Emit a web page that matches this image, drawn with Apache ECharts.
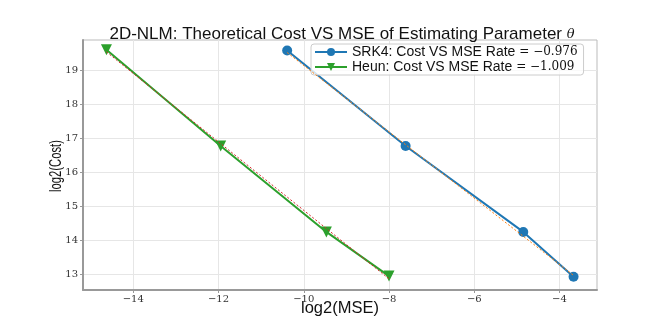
<!DOCTYPE html>
<html>
<head>
<meta charset="utf-8">
<script src="https://cdn.jsdelivr.net/npm/echarts@6/dist/echarts.min.js"></script>
<style>
html, body { margin: 0; padding: 0; background: #fff; }
#main { width: 664px; height: 327px; }
</style>
</head>
<body>
<div id="main"></div>
<script>
var myChart = echarts.init(document.getElementById('main'));

// log2(MSE) / log2(Cost)
var srk4X = [-10.39, -7.61, -4.85, -3.67];
var srk4Y = [19.59, 16.78, 14.25, 12.93];
var heunX = [-14.63, -11.95, -9.47, -8.0];
var heunY = [19.61, 16.78, 14.25, 12.95];
// fitted lines (end points)
var srk4FitX = [-10.39, -3.67];
var srk4FitY = [19.53, 12.97];
var heunFitX = [-14.63, -8.0];
var heunFitY = [19.55, 12.87];
var srk4Rate = '\u22120.976';
var heunRate = '\u22121.009';
var xTicks = [-14, -12, -10, -8, -6, -4];
var yTicks = [13, 14, 15, 16, 17, 18, 19];

function pairs(xs, ys) {
    var out = [];
    for (var i = 0; i < xs.length; i++) {
        out.push([xs[i], ys[i]]);
    }
    return out;
}
function minusFmt(v) {
    return v < 0 ? '\u2212' + Math.abs(v) : String(v);
}

var srk4Name = 'SRK4: Cost VS MSE Rate';
var heunName = 'Heun: Cost VS MSE Rate';

option = {
    backgroundColor: '#fff',
    animation: false,
    title: {
        text: '2D-NLM: Theoretical Cost VS MSE of Estimating Parameter {t|θ}',
        left: 337,
        textAlign: 'center',
        top: 21,
        textStyle: {
            fontFamily: 'Liberation Sans',
            fontSize: 17,
            fontWeight: 'normal',
            color: '#111',
            rich: {
                t: { fontFamily: 'DejaVu Serif', fontStyle: 'italic', fontSize: 13, color: '#111' }
            }
        }
    },
    legend: {
        data: [srk4Name, heunName],
        orient: 'vertical',
        left: 311,
        top: 44,
        itemWidth: 32,
        itemHeight: 10,
        itemGap: 1,
        padding: [1, 6, 1, 3],
        borderColor: '#ccc',
        borderWidth: 1,
        borderRadius: 3,
        backgroundColor: 'rgba(255,255,255,0.8)',
        formatter: function(name) {
            return name + ' {m|= ' + (name === srk4Name ? srk4Rate : heunRate) + '}';
        },
        textStyle: {
            fontFamily: 'Liberation Sans',
            fontSize: 14,
            lineHeight: 14,
            color: '#111',
            rich: {
                m: { fontFamily: 'DejaVu Serif', fontSize: 12, lineHeight: 14, color: '#111' }
            }
        }
    },
    graphic: [{
        type: 'text',
        x: 56,
        y: 166,
        rotation: Math.PI / 2,
        scaleX: 0.66,
        style: {
            text: 'log2(Cost)',
            font: '17px "Liberation Sans"',
            fill: '#111',
            align: 'center',
            verticalAlign: 'middle'
        }
    }],
    grid: {
        left: 83,
        right: 67,
        top: 40,
        bottom: 37,
        show: true,
        borderColor: '#bbb',
        borderWidth: 1
    },
    xAxis: {
        type: 'value',
        min: -15.18,
        max: -3.12,
        name: 'log2(MSE)',
        nameLocation: 'middle',
        nameGap: 10,
        nameMoveOverlap: false,
        nameTextStyle: { fontFamily: 'Liberation Sans', fontSize: 16.5, color: '#111' },
        axisLine: { show: true, onZero: false, lineStyle: { color: '#999', width: 2 } },
        axisTick: { show: true, length: 3, customValues: xTicks, lineStyle: { color: '#999' } },
        axisLabel: {
            customValues: xTicks,
            formatter: minusFmt,
            margin: 4,
            fontFamily: 'DejaVu Serif',
            fontSize: 10,
            color: '#333'
        },
        splitLine: { show: true, lineStyle: { color: '#e6e6e6', width: 1 } }
    },
    yAxis: {
        type: 'value',
        min: 12.54,
        max: 19.9,
        axisLine: { show: true, onZero: false, lineStyle: { color: '#999', width: 2 } },
        axisTick: { show: true, length: 3, customValues: yTicks, lineStyle: { color: '#999' } },
        axisLabel: {
            customValues: yTicks,
            formatter: minusFmt,
            margin: 5,
            fontFamily: 'DejaVu Serif',
            fontSize: 10,
            color: '#333'
        },
        splitLine: { show: true, lineStyle: { color: '#e6e6e6', width: 1 } }
    },
    series: [{
        name: srk4Name,
        type: 'line',
        data: pairs(srk4X, srk4Y),
        symbol: 'circle',
        symbolSize: 10,
        lineStyle: { color: '#1f77b4', width: 2 },
        itemStyle: { color: '#1f77b4' },
        z: 3
    }, {
        name: heunName,
        type: 'line',
        data: pairs(heunX, heunY),
        symbol: 'triangle',
        symbolRotate: 180,
        symbolSize: 11,
        lineStyle: { color: '#2ca02c', width: 2 },
        itemStyle: { color: '#2ca02c' },
        z: 3
    }, {
        name: 'srk4fit',
        type: 'line',
        data: pairs(srk4FitX, srk4FitY),
        symbol: 'none',
        lineStyle: { color: '#ff7f0e', width: 1, type: [2, 2] },
        z: 4
    }, {
        name: 'heunfit',
        type: 'line',
        data: pairs(heunFitX, heunFitY),
        symbol: 'none',
        lineStyle: { color: '#d62728', width: 1, type: [2, 2] },
        z: 4
    }]
};
myChart.setOption(option);
</script>
</body>
</html>
